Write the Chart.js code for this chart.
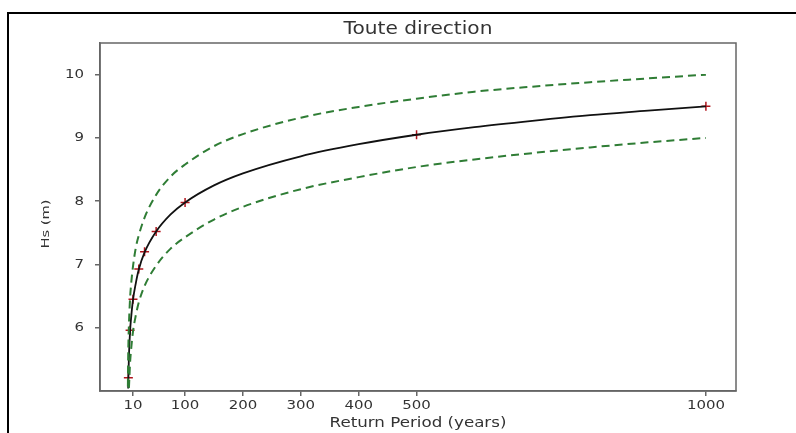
<!DOCTYPE html>
<html>
<head>
<meta charset="utf-8">
<title>Toute direction</title>
<script src="https://cdn.jsdelivr.net/npm/chart.js@4.4.1/dist/chart.umd.min.js"></script>
<style>
  html, body { margin: 0; padding: 0; background: #fff; }
  #wrap { position: relative; width: 796px; height: 433px; overflow: hidden; }
  #frame { position: absolute; left: 7px; top: 12px; width: 900px; height: 600px; border: 2px solid #000; }
  #chart { position: absolute; left: 0; top: 0; }
</style>
</head>
<body>
<div id="wrap">
  <div id="frame"></div>
  <canvas id="chart" width="796" height="433"></canvas>
</div>
<script>
const chartTitle = "Toute direction";
const xTitle = "Return Period (years)";
const yTitle = "Hs (m)";

const xTicks = [10, 100, 200, 300, 400, 500, 1000];
const yTicks = [6, 7, 8, 9, 10];

// fitted return level curve (black)
const fitPeriods = [1.7, 2, 3, 5, 7, 10, 15, 20, 30, 50, 75, 100, 150, 200, 300, 400, 500, 600, 700, 800, 900, 1000];
const fitHs = [5.04, 5.2, 5.55, 5.95, 6.18, 6.44, 6.71, 6.92, 7.19, 7.52, 7.79, 7.98, 8.25, 8.44, 8.71, 8.9, 9.05, 9.17, 9.27, 9.36, 9.43, 9.5];

// confidence bounds (green dashed)
const upperPeriods = [1.2, 1.5, 2, 3, 5, 7, 10, 15, 20, 30, 50, 75, 100, 150, 200, 300, 400, 500, 600, 700, 800, 900, 1000];
const upperHs = [5.07, 5.39, 5.7, 6.05, 6.47, 6.71, 6.97, 7.27, 7.46, 7.74, 8.1, 8.39, 8.58, 8.87, 9.06, 9.32, 9.49, 9.62, 9.73, 9.81, 9.88, 9.94, 10.0];
const lowerPeriods = [3, 5, 7, 10, 15, 20, 30, 50, 75, 100, 150, 200, 300, 400, 500, 600, 700, 800, 900, 1000];
const lowerHs = [5.05, 5.45, 5.68, 5.94, 6.2, 6.4, 6.66, 6.98, 7.25, 7.43, 7.71, 7.91, 8.19, 8.38, 8.54, 8.66, 8.76, 8.85, 8.93, 9.0];

// observed / estimated points (red +)
const pointPeriods = [2, 5, 10, 20, 30, 50, 100, 500, 1000];
const pointHs = [5.21, 5.96, 6.45, 6.93, 7.2, 7.52, 7.98, 9.05, 9.5];

const STRETCH = 1.15;
const TEXT_COLOR = "#333";
const AXIS_COLOR = "#666";
const BAND_COLOR = "#2f7d35";

function pairs(xs, ys) {
  return xs.map((x, i) => ({ x, y: ys[i] }));
}

const textPlugin = {
  id: "stretchedText",
  afterDraw(chart) {
    const { ctx, chartArea, scales } = chart;
    const drawText = (txt, x, y, size, align, rot, stretch = STRETCH) => {
      ctx.save();
      ctx.translate(x, y);
      if (rot) ctx.rotate(rot);
      ctx.scale(stretch, 1);
      ctx.font = `${size}px "DejaVu Sans"`;
      ctx.fillStyle = TEXT_COLOR;
      ctx.textAlign = align;
      ctx.textBaseline = "middle";
      ctx.fillText(txt, 0, 0);
      ctx.restore();
    };
    // frame on all four sides
    ctx.save();
    ctx.strokeStyle = AXIS_COLOR;
    ctx.lineWidth = 1.5;
    ctx.strokeRect(chartArea.left, chartArea.top, chartArea.right - chartArea.left, chartArea.bottom - chartArea.top);
    ctx.restore();

    const cx = (chartArea.left + chartArea.right) / 2;
    xTicks.forEach((v) => drawText(String(v), scales.x.getPixelForValue(v), chartArea.bottom + 15, 13, "center"));
    yTicks.forEach((v) => drawText(String(v), chartArea.left - 14 * STRETCH, scales.y.getPixelForValue(v), 13, "right"));
    drawText(chartTitle, cx, 29, 17.5, "center");
    drawText(xTitle, cx, 423, 14.5, "center");
    drawText(yTitle, 46, 224, 10.5, "center", -Math.PI / 2, 1.4);
  },
};

new Chart(document.getElementById("chart"), {
  type: "scatter",
  data: {
    datasets: [
      {
        label: "upper",
        data: pairs(upperPeriods, upperHs),
        showLine: true,
        borderColor: BAND_COLOR,
        borderWidth: 2,
        borderDash: [8, 5],
        pointRadius: 0,
        cubicInterpolationMode: "monotone",
      },
      {
        label: "lower",
        data: pairs(lowerPeriods, lowerHs),
        showLine: true,
        borderColor: BAND_COLOR,
        borderWidth: 2,
        borderDash: [8, 5],
        pointRadius: 0,
        cubicInterpolationMode: "monotone",
      },
      {
        label: "fit",
        data: pairs(fitPeriods, fitHs),
        showLine: true,
        borderColor: "#111",
        borderWidth: 1.8,
        pointRadius: 0,
        cubicInterpolationMode: "monotone",
      },
      {
        label: "points",
        data: pairs(pointPeriods, pointHs),
        showLine: false,
        pointStyle: "cross",
        pointRadius: 4.5,
        pointBorderWidth: 1.5,
        pointBorderColor: "#b0141c",
        pointBackgroundColor: "#b0141c",
      },
    ],
  },
  options: {
    responsive: false,
    animation: false,
    devicePixelRatio: 1,
    layout: { padding: { left: 0, top: 43, right: 60, bottom: 0 } },
    plugins: { legend: { display: false }, tooltip: { enabled: false }, title: { display: false } },
    scales: {
      x: {
        type: "linear",
        min: -47,
        max: 1052,
        afterBuildTicks: (scale) => { scale.ticks = xTicks.map((v) => ({ value: v })); },
        afterFit: (scale) => { scale.height = 42; },
        ticks: { display: false },
        grid: { display: true, drawOnChartArea: false, drawTicks: true, tickLength: 5, color: AXIS_COLOR, lineWidth: 1.5 },
        border: { display: true, color: AXIS_COLOR, width: 1.5 },
      },
      y: {
        type: "linear",
        min: 5,
        max: 10.5,
        afterBuildTicks: (scale) => { scale.ticks = yTicks.map((v) => ({ value: v })); },
        afterFit: (scale) => { scale.width = 100; },
        ticks: { display: false },
        grid: { display: true, drawOnChartArea: false, drawTicks: true, tickLength: 5, color: AXIS_COLOR, lineWidth: 1.5 },
        border: { display: true, color: AXIS_COLOR, width: 1.5 },
      },
    },
  },
  plugins: [textPlugin],
});
</script>
</body>
</html>
